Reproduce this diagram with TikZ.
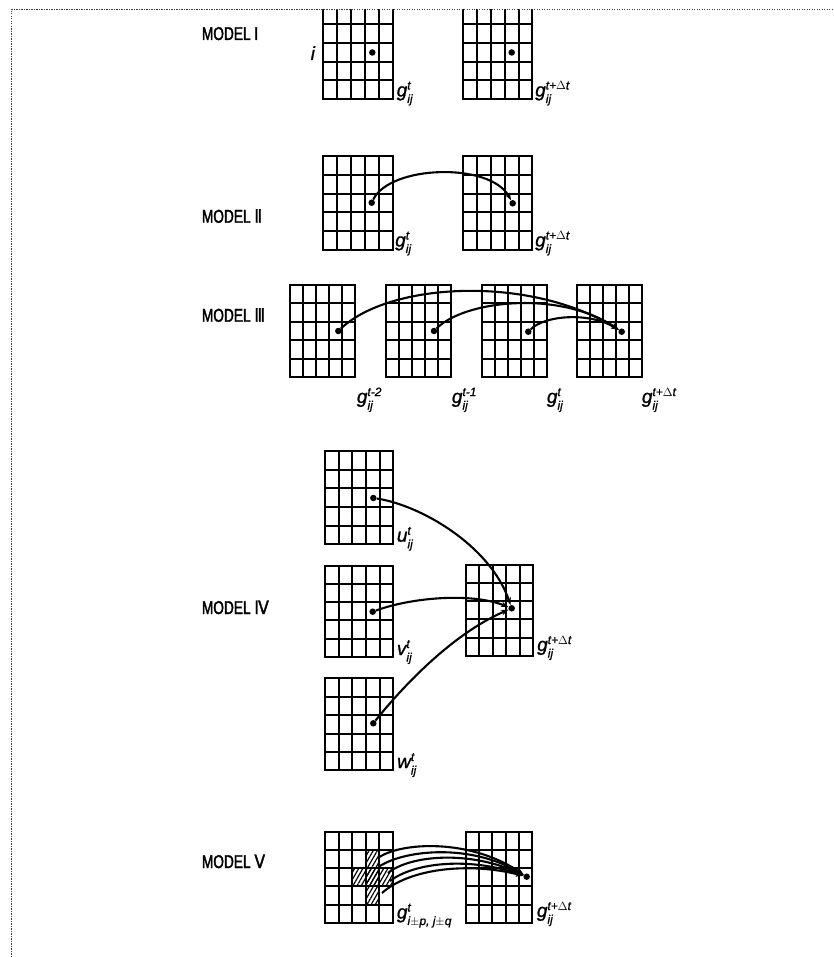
\documentclass[tikz,border=0pt]{standalone}
\usepackage{fontspec}
\setmainfont{Liberation Sans}
\newfontfamily\modelfont[FakeStretch=0.74,FakeBold=1.8]{Liberation Sans}
\newfontfamily\numfont[FakeStretch=0.85,FakeBold=1.8]{DejaVu Sans}
\newfontfamily\labfont[FakeBold=1]{Liberation Sans}
\usetikzlibrary{calc,arrows.meta,patterns.meta}

\newcommand{\slab}[3]{\labfont\fontsize{19}{19}\selectfont\itshape #1\rlap{\raisebox{7pt}{\fontsize{12}{12}\selectfont #2}}\raisebox{-6.5pt}{\fontsize{12}{12}\selectfont #3}}

\newcommand{\cellgrid}[5]{%
  \node[gridbox, minimum width=#4pt, minimum height=#5pt] (#1) at (#2,#3) {};
  \foreach \k in {1,2,3,4}{%
    \draw[gl] ($(#1.north west)!\k/5!(#1.north east)$) -- ($(#1.south west)!\k/5!(#1.south east)$);
    \draw[gl] ($(#1.north west)!\k/5!(#1.south west)$) -- ($(#1.north east)!\k/5!(#1.south east)$);
  }}

\tikzset{
  gridbox/.style={draw, line width=2.2pt, anchor=north west, inner sep=0pt, outer sep=0pt},
  gl/.style={line width=2pt},
  dotn/.style={circle, fill, inner sep=0pt, minimum size=6.5pt},
  conn/.style={line width=2.1pt, -{Stealth[length=7.5pt,width=5.5pt]}},
  lab/.style={anchor=base west, inner sep=0pt},
  modeltxt/.style={anchor=base west, inner sep=0pt, font=\modelfont\fontsize{18.5}{19}\selectfont},
  hatch/.style={pattern={Lines[angle=60,distance=3.6pt,line width=1.2pt]}},
  bord/.style={line width=1pt, black!75, dash pattern=on 1.2pt off 1.3pt}
}

\begin{document}
\begin{tikzpicture}[x=1pt,y=-1pt]
\useasboundingbox (0,0) rectangle (833,957);

% ---------------- MODEL I
\node[modeltxt] (m1) at (201.7,40) {MODEL I};
\begin{scope}
  \clip (0,10) rectangle (833,957);
  \cellgrid{gA1}{323.3}{5.5}{69.4}{93.5}
  \cellgrid{gA2}{463.3}{5.5}{69}{93.5}
\end{scope}
\node[dotn] (dA1) at (372.3,52.5) {};
\node[dotn] (dA2) at (511.7,52.5) {};
\node[lab] (li) at (310.5,60) {\labfont\fontsize{19}{19}\selectfont\itshape i};
\node[lab] (lA1) at (396.5,96.5) {\slab{g}{t}{ij}};
\node[lab] (lA2) at (535,96.5) {\slab{g}{t+$\Delta$t}{ij}};

% ---------------- MODEL II
\node[modeltxt] (m2) at (201.7,222.7) {MODEL {\numfont Ⅱ}};
\cellgrid{gB1}{323.3}{156}{69.4}{94}
\cellgrid{gB2}{463.3}{156}{69}{94}
\node[dotn] (dB1) at (371.7,202.7) {};
\node[dotn] (dB2) at (512.7,203.3) {};
\draw[conn] (dB1) .. controls (390,165) and (490,162) .. (dB2);
\node[lab] (lB1) at (395,246.5) {\slab{g}{t}{ij}};
\node[lab] (lB2) at (535,246.5) {\slab{g}{t+$\Delta$t}{ij}};

% ---------------- MODEL III
\node[modeltxt] (m3) at (201.7,321.7) {MODEL {\numfont Ⅲ}};
\cellgrid{gC1}{290}{285}{65}{92.3}
\cellgrid{gC2}{386}{285}{64.7}{92.3}
\cellgrid{gC3}{481.7}{285}{65}{92.3}
\cellgrid{gC4}{576.7}{285}{65}{92.3}
\node[dotn] (dC1) at (338.3,331) {};
\node[dotn] (dC2) at (434,331) {};
\node[dotn] (dC3) at (528.3,331.7) {};
\node[dotn] (dC4) at (621.7,331.7) {};
\draw[conn] (dC1) .. controls (390,282) and (530,275) .. (dC4);
\draw[conn] (dC2) .. controls (465,300) and (560,290) .. (dC4);
\draw[conn] (dC3) .. controls (545,315) and (590,312) .. (dC4);
\node[lab] (lC1) at (356.7,403) {\slab{g}{t-2}{ij}};
\node[lab] (lC2) at (451.7,403) {\slab{g}{t-1}{ij}};
\node[lab] (lC3) at (546.7,403) {\slab{g}{t}{ij}};
\node[lab] (lC4) at (641.7,403) {\slab{g}{t+$\Delta$t}{ij}};

% ---------------- MODEL IV
\node[modeltxt] (m4) at (201.7,614) {MODEL {\numfont Ⅳ}};
\cellgrid{gDu}{325}{451}{68.3}{93.3}
\cellgrid{gDv}{325}{565.7}{68.3}{91}
\cellgrid{gDw}{325}{678.3}{68.3}{92}
\cellgrid{gDt}{465.7}{565}{67.6}{90.7}
\node[dotn] (dDu) at (373.3,498) {};
\node[dotn] (dDv) at (372.7,611.7) {};
\node[dotn] (dDw) at (373.3,723.3) {};
\node[dotn] (dDt) at (511.7,608.3) {};
\draw[conn] (dDu) .. controls (420,505) and (490,545) .. (dDt);
\draw[conn] (dDv) .. controls (410,598) and (470,592) .. (dDt);
\draw[conn] (dDw) .. controls (400,690) and (450,635) .. (dDt);
\node[lab] (lDu) at (396.7,541.7) {\slab{u}{t}{ij}};
\node[lab] (lDv) at (396.7,655) {\slab{v}{t}{ij}};
\node[lab] (lDw) at (397,768) {\slab{w}{t}{ij}};
\node[lab] (lDt) at (537,651) {\slab{g}{t+$\Delta$t}{ij}};

% ---------------- MODEL V
\node[modeltxt] (m5) at (201.7,868) {MODEL {\numfont Ⅴ}};
\fill[hatch] (365.6,849.9) rectangle (379.2,904.5);
\fill[hatch] (352.1,868.1) rectangle (392.7,886.3);
\cellgrid{gE1}{325}{831.7}{67.7}{91}
\cellgrid{gE2}{465.7}{831.7}{66.6}{91}
\node[dotn] (dEt) at (526.7,876.7) {};
\coordinate (s1) at (378,858);
\coordinate (s2) at (380,866);
\coordinate (s3) at (388,873);
\coordinate (s4) at (390,881);
\coordinate (s5) at (382,893);
\draw[conn] (s1) .. controls (400,842) and (470,838) .. (dEt);
\draw[conn] (s2) .. controls (405,850) and (470,843) .. (dEt);
\draw[conn] (s3) .. controls (410,855) and (470,850) .. (dEt);
\draw[conn] (s4) .. controls (415,862) and (470,857) .. (dEt);
\draw[conn] (s5) .. controls (410,868) and (470,862) .. (dEt);
\node[lab] (lE1) at (396.7,918.5) {\slab{g}{t}{i$\pm$p, j$\pm$q}};
\node[lab] (lE2) at (536.7,917) {\slab{g}{t+$\Delta$t}{ij}};

% ---------------- frame
\coordinate (fb) at (11,957);
\coordinate (fc) at (11,10);
\coordinate (fr) at (833,10);
\draw[bord] (fb) -- (fc) -- (fr);
\end{tikzpicture}
\end{document}
